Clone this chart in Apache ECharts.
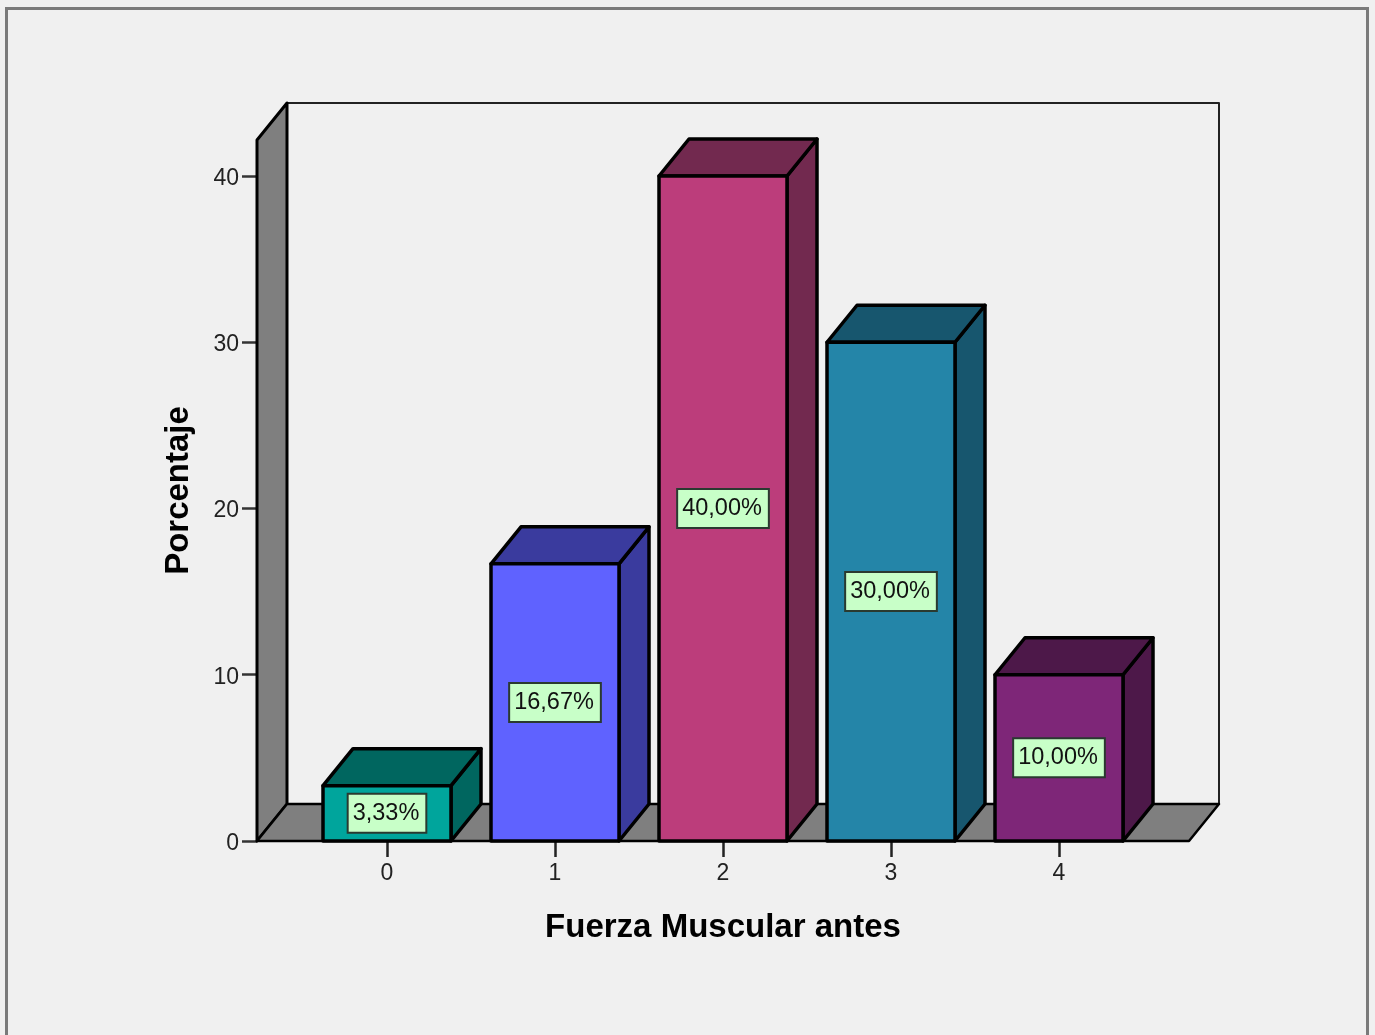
<!DOCTYPE html>
<html>
<head>
<meta charset="utf-8">
<title>Fuerza Muscular antes</title>
<script src="https://cdn.jsdelivr.net/npm/echarts@6/dist/echarts.min.js"></script>
<style>html,body{margin:0;padding:0;background:#f0f0f0}#chart{width:1375px;height:1035px}</style>
</head>
<body>
<div id="chart"></div>
<script>
// Percentage of cases per muscle-strength grade
const categories = ['0', '1', '2', '3', '4'];
const percentages = [3.33, 16.67, 40, 30, 10];
const frontColors = ['#00A59C', '#5F62FF', '#BC3D7B', '#2485A8', '#7E2678'];
const shadeColors = ['#00665F', '#3A3B9E', '#72294F', '#17566E', '#4D1849'];
const yTicks = { min: 0, max: 42.165, interval: 10 };

const FONT = '"Liberation Sans", Arial, sans-serif';
const INK = '#000';
// Box depth of the pseudo-3D projection, in category bands and value units
const DEPTH_X = 30 / 168;
const DEPTH_Y = 2.225;
const BAR_RATIO = 128 / 168;
// How far the floor runs past the first and last band, in bands
const SIDE_PAD = 46 / 168;

function poly(points, fill, width, stroke) {
  return {
    type: 'polygon',
    shape: { points },
    style: { fill, stroke: stroke || INK, lineWidth: width, lineJoin: 'round' }
  };
}

function renderWalls(params, api) {
  const band = api.size([1, 0])[0];
  const unit = api.size([0, 1])[1];
  const dx = band * DEPTH_X;
  const dy = unit * DEPTH_Y;
  const left = api.coord([0, 0])[0] - band / 2 - band * SIDE_PAD;
  const right = api.coord([categories.length - 1, 0])[0] + band / 2 + band * SIDE_PAD;
  const base = api.coord([0, 0])[1];
  const top = api.coord([0, yTicks.max])[1];
  return {
    type: 'group',
    children: [
      poly([[left + dx, top - dy], [right + dx, top - dy], [right + dx, base - dy], [left + dx, base - dy]], '#F0F0F0', 2, '#222'),
      poly([[left, top], [left + dx, top - dy], [left + dx, base - dy], [left, base]], '#7F7F7F', 3),
      poly([[left, base], [left + dx, base - dy], [right + dx, base - dy], [right, base]], '#7F7F7F', 2.5)
    ]
  };
}

function renderBox(params, api) {
  const i = api.value(0);
  const v = api.value(1);
  const band = api.size([1, 0])[0];
  const unit = api.size([0, 1])[1];
  const half = band * BAR_RATIO / 2;
  const dx = band * DEPTH_X;
  const dy = unit * DEPTH_Y;
  const [cx, yTop] = api.coord([i, v]);
  const yBase = api.coord([i, 0])[1];
  const midY = api.coord([i, v / 2])[1];
  const l = cx - half;
  const r = cx + half;
  const label = v.toFixed(2).replace('.', ',') + '%';
  return {
    type: 'group',
    children: [
      poly([[r, yTop], [r + dx, yTop - dy], [r + dx, yBase - dy], [r, yBase]], shadeColors[i], 3.5),
      poly([[l, yTop], [l + dx, yTop - dy], [r + dx, yTop - dy], [r, yTop]], shadeColors[i], 3.5),
      poly([[l, yTop], [r, yTop], [r, yBase], [l, yBase]], frontColors[i], 3.5),
      {
        type: 'text',
        x: cx,
        y: midY,
        style: {
          text: label,
          font: '23.5px ' + FONT,
          fill: '#111',
          align: 'center',
          verticalAlign: 'middle',
          backgroundColor: '#C8FFC8',
          borderColor: '#2A3A30',
          borderWidth: 2,
          padding: [8, 6, 5, 4]
        }
      }
    ]
  };
}

const chart = echarts.init(document.getElementById('chart'), null, { renderer: 'canvas' });
chart.setOption({
  animation: false,
  backgroundColor: '#F0F0F0',
  grid: { left: 303, width: 840, top: 140, height: 701 },
  xAxis: {
    type: 'category',
    data: categories,
    name: 'Fuerza Muscular antes',
    nameLocation: 'middle',
    nameGap: 70,
    nameTextStyle: { fontFamily: FONT, fontWeight: 'bold', fontSize: 33, color: INK },
    axisLine: { show: false },
    axisTick: { show: true, alignWithLabel: true, length: 16, lineStyle: { color: '#222', width: 2.5 } },
    axisLabel: { fontFamily: FONT, fontSize: 23, color: '#222', margin: 21 }
  },
  yAxis: {
    type: 'value',
    min: yTicks.min,
    max: yTicks.max,
    interval: yTicks.interval,
    offset: 46,
    name: 'Porcentaje',
    nameLocation: 'middle',
    nameGap: 62,
    nameRotate: 90,
    nameTextStyle: { fontFamily: FONT, fontWeight: 'bold', fontSize: 33, color: INK },
    axisLine: { show: false },
    splitLine: { show: false },
    axisTick: { show: true, length: 15, lineStyle: { color: '#333', width: 2.5 } },
    axisLabel: {
      margin: 18,
      showMaxLabel: false,
      formatter: '{tick|{value}}',
      rich: { tick: { fontFamily: FONT, fontSize: 23, color: '#222', padding: [5, 0, 0, 0] } }
    }
  },
  series: [
    {
      type: 'custom',
      name: 'walls',
      coordinateSystem: 'cartesian2d',
      renderItem: renderWalls,
      data: [[0, 0]],
      silent: true,
      z: 1
    },
    {
      type: 'custom',
      name: 'Porcentaje',
      coordinateSystem: 'cartesian2d',
      renderItem: renderBox,
      data: percentages.map((v, i) => [i, v]),
      encode: { x: 0, y: 1 },
      clip: false,
      z: 2
    }
  ],
  graphic: [
    {
      type: 'polyline',
      shape: { points: [[6.5, 1035], [6.5, 8.5], [1367.5, 8.5], [1367.5, 1035]] },
      style: { fill: 'none', stroke: '#7A7A7A', lineWidth: 3 },
      silent: true
    }
  ]
});
</script>
</body>
</html>
